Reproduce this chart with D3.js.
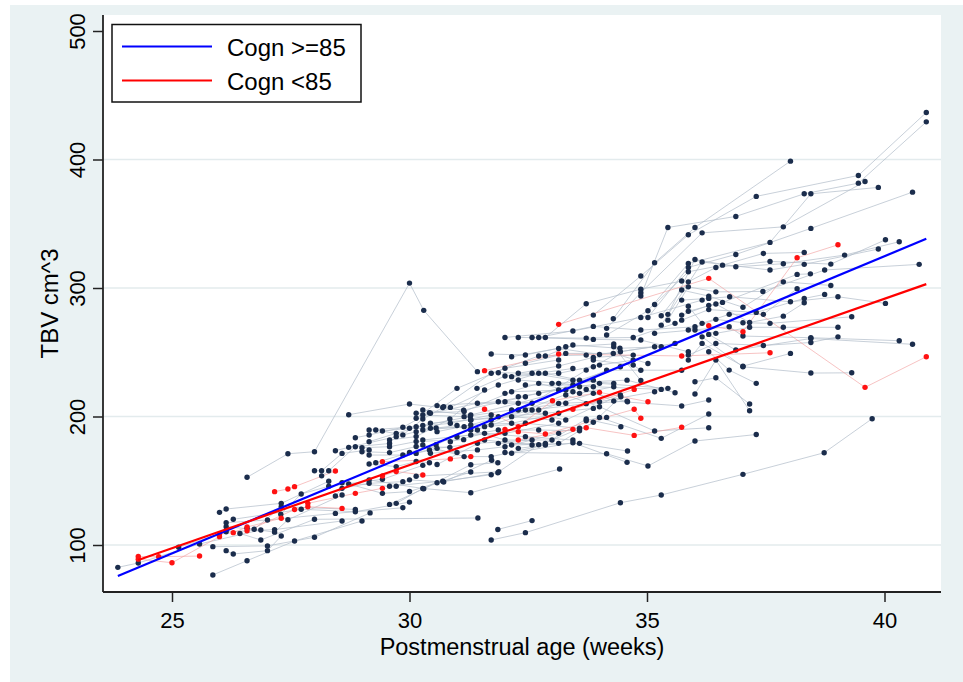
<!DOCTYPE html>
<html>
<head>
<meta charset="utf-8">
<title>TBV by postmenstrual age</title>
<script src="https://cdn.jsdelivr.net/npm/d3@7"></script>
<style>
  html, body { margin: 0; padding: 0; background: #fff; }
  svg { display: block; font-family: "Liberation Sans", Arial, sans-serif; }
</style>
</head>
<body>
<div id="container"></div>
<script>
// TBV (cm^3) by postmenstrual age, spaghetti plot + linear fits per cognition group

//### DATA ###
// each subject = list of [ week, tbv ] scans
const cognHighEarly = [
  [ [ 23.86, 82.6 ], [ 24.29, 86.0 ], [ 25.58, 100.8 ], [ 26.87, 111.7 ] ],
  [ [ 25.14, 98.2 ], [ 26.14, 110.3 ], [ 27.16, 112.0 ], [ 28.58, 118.7 ] ],
  [ [ 25.86, 76.7 ], [ 26.58, 87.8 ], [ 27.58, 103.1 ], [ 29.0, 118.7 ] ],
  [ [ 25.86, 98.7 ], [ 27.01, 99.3 ], [ 28.0, 106.0 ], [ 29.17, 125.0 ] ],
  [ [ 26.0, 125.4 ], [ 26.14, 128.0 ], [ 27.3, 132.4 ], [ 28.3, 149.6 ] ],
  [ [ 26.14, 117.3 ], [ 27.01, 119.5 ], [ 28.44, 124.6 ], [ 29.86, 129.0 ] ],
  [ [ 26.14, 114.2 ], [ 26.73, 112.2 ], [ 27.3, 129.8 ], [ 28.86, 127.7 ] ],
  [ [ 26.14, 95.6 ], [ 26.29, 93.0 ], [ 27.01, 95.6 ], [ 27.3, 107.0 ] ],
  [ [ 26.29, 120.0 ], [ 27.72, 127.8 ], [ 28.86, 125.9 ], [ 30.0, 133.4 ] ],
  [ [ 26.43, 109.0 ], [ 26.87, 103.9 ], [ 28.0, 120.0 ], [ 31.44, 121.0 ] ],
  [ [ 26.58, 152.7 ], [ 27.44, 171.0 ], [ 28.0, 172.6 ], [ 30.0, 303.8 ], [ 30.3, 282.6 ], [ 31.43, 234.9 ] ],
  [ [ 26.58, 113.0 ], [ 27.16, 110.0 ], [ 27.44, 119.6 ], [ 28.58, 138.9 ] ],
  [ [ 27.29, 124.0 ], [ 27.72, 139.7 ], [ 28.3, 145.7 ], [ 29.43, 151.1 ], [ 30.28, 162.0 ] ],
  [ [ 28.0, 157.8 ], [ 28.15, 157.8 ], [ 28.58, 171.3 ], [ 29.15, 174.0 ] ],
  [ [ 28.15, 153.8 ], [ 28.3, 157.8 ], [ 28.86, 176.5 ], [ 29.58, 179.0 ] ],
  [ [ 28.44, 173.4 ], [ 28.72, 176.0 ], [ 29.72, 184.3 ], [ 30.14, 188.2 ] ],
  [ [ 28.44, 138.1 ], [ 28.58, 144.1 ], [ 29.15, 148.0 ], [ 29.86, 149.3 ] ],
  [ [ 28.58, 148.5 ], [ 29.58, 145.7 ], [ 30.7, 149.7 ], [ 31.72, 154.7 ] ],
  [ [ 28.72, 201.4 ], [ 30.0, 209.7 ], [ 31.14, 205.0 ], [ 32.44, 215.4 ] ],
  [ [ 28.72, 147.5 ], [ 29.43, 140.2 ], [ 30.0, 141.6 ], [ 31.29, 156.8 ] ],
  [ [ 28.86, 183.5 ], [ 29.15, 185.6 ], [ 29.86, 191.6 ], [ 30.42, 203.0 ] ],
  [ [ 29.0, 175.7 ], [ 29.58, 176.5 ], [ 30.14, 180.5 ], [ 31.14, 182.0 ] ],
  [ [ 29.0, 172.6 ], [ 29.58, 171.9 ], [ 30.14, 176.6 ], [ 30.85, 176.0 ] ],
  [ [ 29.15, 180.4 ], [ 29.72, 186.9 ], [ 30.28, 193.0 ], [ 31.28, 200.0 ] ],
  [ [ 29.15, 170.0 ], [ 29.86, 170.0 ], [ 30.42, 174.0 ], [ 31.0, 172.0 ] ],
  [ [ 29.15, 163.0 ], [ 29.72, 161.0 ], [ 30.14, 165.0 ], [ 30.42, 164.0 ] ],
  [ [ 29.15, 189.5 ], [ 30.14, 192.1 ], [ 30.86, 194.7 ], [ 31.72, 201.2 ] ],
  [ [ 29.15, 150.6 ], [ 30.3, 143.8 ], [ 31.29, 162.5 ], [ 31.86, 164.0 ] ],
  [ [ 29.29, 189.5 ], [ 29.86, 185.7 ], [ 30.28, 198.0 ], [ 30.7, 207.0 ] ],
  [ [ 29.29, 164.0 ], [ 30.0, 172.0 ], [ 30.56, 178.0 ], [ 31.28, 190.0 ] ]
];

const cognHighMid = [
  [ [ 29.43, 188.7 ], [ 30.0, 190.8 ], [ 30.56, 191.0 ], [ 31.0, 193.0 ] ],
  [ [ 29.58, 181.7 ], [ 30.14, 184.4 ], [ 30.85, 198.0 ], [ 31.58, 220.6 ] ],
  [ [ 29.58, 131.6 ], [ 30.58, 148.5 ], [ 31.86, 156.2 ] ],
  [ [ 29.72, 132.4 ], [ 30.28, 144.0 ], [ 31.29, 140.7 ], [ 33.16, 159.1 ] ],
  [ [ 29.72, 145.7 ], [ 30.0, 150.7 ], [ 30.72, 149.0 ], [ 31.73, 166.0 ] ],
  [ [ 30.14, 202.5 ], [ 31.15, 203.8 ], [ 32.15, 219.3 ], [ 33.29, 220.6 ] ],
  [ [ 30.14, 198.6 ], [ 31.0, 221.9 ], [ 32.01, 237.5 ], [ 33.14, 244.0 ] ],
  [ [ 30.14, 171.3 ], [ 30.58, 175.2 ], [ 31.43, 179.1 ], [ 32.58, 181.7 ] ],
  [ [ 30.14, 153.5 ], [ 31.88, 157.0 ], [ 32.72, 178.0 ] ],
  [ [ 30.28, 205.1 ], [ 31.29, 201.2 ], [ 32.29, 210.3 ], [ 33.58, 223.2 ] ],
  [ [ 30.28, 201.2 ], [ 31.15, 199.9 ], [ 32.15, 205.1 ], [ 33.29, 210.3 ] ],
  [ [ 30.28, 189.5 ], [ 31.15, 192.1 ], [ 32.44, 205.1 ], [ 33.44, 219.3 ] ],
  [ [ 30.28, 181.7 ], [ 31.29, 185.6 ], [ 32.01, 186.9 ], [ 33.14, 194.7 ] ],
  [ [ 30.28, 177.8 ], [ 31.15, 168.8 ], [ 31.72, 168.8 ], [ 32.86, 177.8 ] ],
  [ [ 30.44, 202.5 ], [ 31.43, 210.3 ], [ 32.58, 210.3 ], [ 33.72, 236.1 ] ],
  [ [ 30.44, 194.7 ], [ 31.29, 197.3 ], [ 32.15, 199.9 ], [ 33.0, 197.3 ] ],
  [ [ 30.44, 190.8 ], [ 31.58, 192.1 ], [ 32.44, 194.7 ], [ 33.58, 190.8 ] ],
  [ [ 30.44, 171.4 ], [ 31.43, 174.0 ], [ 32.01, 176.5 ], [ 33.14, 186.9 ] ],
  [ [ 30.58, 208.5 ], [ 31.87, 211.5 ], [ 32.72, 218.0 ], [ 33.87, 228.3 ] ],
  [ [ 30.58, 188.2 ], [ 31.29, 193.4 ], [ 32.15, 194.7 ], [ 33.14, 202.5 ] ],
  [ [ 30.58, 162.6 ], [ 31.58, 181.7 ], [ 32.58, 177.8 ] ],
  [ [ 30.72, 207.7 ], [ 31.72, 233.6 ], [ 32.72, 247.1 ], [ 33.72, 247.8 ] ],
  [ [ 30.86, 207.1 ], [ 31.87, 224.5 ], [ 32.72, 233.6 ], [ 33.44, 237.4 ] ],
  [ [ 30.86, 180.4 ], [ 31.58, 186.9 ], [ 32.44, 184.3 ], [ 33.44, 181.7 ] ],
  [ [ 31.0, 184.0 ], [ 31.87, 189.5 ], [ 32.72, 189.5 ], [ 33.58, 188.9 ] ],
  [ [ 31.29, 189.5 ], [ 32.01, 181.7 ], [ 33.0, 181.7 ], [ 34.15, 199.3 ] ],
  [ [ 31.29, 197.3 ], [ 31.87, 199.9 ], [ 32.86, 202.5 ], [ 33.87, 206.3 ] ],
  [ [ 31.43, 189.5 ], [ 32.29, 205.1 ], [ 33.29, 197.3 ], [ 34.44, 216.7 ] ],
  [ [ 31.42, 221.9 ], [ 32.01, 231.5 ], [ 32.86, 233.6 ], [ 33.58, 228.3 ], [ 34.44, 238.7 ] ],
  [ [ 31.72, 248.6 ], [ 32.44, 247.9 ], [ 33.29, 254.3 ], [ 34.3, 256.4 ] ],
  [ [ 31.72, 197.3 ], [ 32.58, 205.1 ], [ 33.72, 210.0 ], [ 34.58, 212.0 ] ],
  [ [ 31.72, 193.4 ], [ 32.72, 205.1 ], [ 33.87, 218.0 ], [ 34.59, 211.5 ] ],
  [ [ 31.87, 234.1 ], [ 32.58, 233.6 ], [ 33.44, 228.3 ], [ 34.3, 225.8 ] ],
  [ [ 31.87, 179.1 ], [ 32.86, 179.0 ], [ 33.72, 198.0 ], [ 34.45, 192.0 ] ],
  [ [ 31.72, 103.9 ], [ 32.44, 109.6 ], [ 34.44, 132.9 ], [ 35.3, 138.9 ], [ 37.02, 155.0 ], [ 38.73, 171.8 ], [ 39.74, 198.3 ] ],
  [ [ 31.86, 112.1 ], [ 32.58, 119.0 ] ],
  [ [ 32.01, 261.5 ], [ 33.44, 266.5 ], [ 34.87, 277.1 ], [ 36.16, 290.6 ] ],
  [ [ 32.01, 218.0 ], [ 32.72, 225.8 ], [ 33.58, 218.0 ], [ 34.3, 223.2 ] ],
  [ [ 32.01, 211.5 ], [ 33.14, 210.2 ], [ 34.0, 211.5 ], [ 35.16, 219.3 ] ],
  [ [ 32.01, 172.0 ], [ 34.15, 171.0 ], [ 35.02, 161.5 ], [ 36.01, 180.9 ], [ 37.3, 186.0 ] ],
  [ [ 32.15, 246.5 ], [ 33.14, 253.0 ], [ 34.0, 248.3 ], [ 35.16, 254.3 ] ],
  [ [ 32.15, 231.0 ], [ 33.14, 233.6 ], [ 34.0, 240.0 ], [ 34.71, 243.9 ] ],
  [ [ 32.15, 177.8 ], [ 33.58, 179.1 ], [ 34.59, 173.1 ] ],
  [ [ 32.15, 171.4 ], [ 33.44, 179.6 ], [ 34.58, 164.3 ] ],
  [ [ 32.29, 261.5 ], [ 33.72, 261.0 ], [ 34.71, 261.5 ], [ 35.59, 272.5 ] ],
  [ [ 32.29, 233.6 ], [ 33.14, 239.3 ], [ 33.87, 246.0 ], [ 34.71, 247.8 ] ],
  [ [ 32.29, 228.4 ], [ 33.14, 225.8 ], [ 33.87, 223.2 ], [ 35.3, 221.1 ] ],
  [ [ 32.29, 215.4 ], [ 33.14, 220.6 ], [ 34.0, 225.8 ], [ 35.44, 221.9 ] ],
  [ [ 32.29, 175.2 ], [ 33.14, 179.1 ], [ 33.87, 195.5 ], [ 34.45, 215.4 ] ],
  [ [ 32.44, 241.4 ], [ 33.29, 249.1 ], [ 34.29, 249.1 ], [ 35.02, 241.3 ] ],
  [ [ 32.44, 224.5 ], [ 33.44, 224.5 ], [ 34.15, 236.1 ], [ 35.73, 236.0 ] ],
  [ [ 32.58, 261.5 ], [ 33.87, 260.0 ], [ 34.87, 259.5 ], [ 35.87, 250.4 ] ],
  [ [ 32.72, 261.5 ], [ 33.87, 270.1 ], [ 34.87, 267.3 ], [ 36.01, 269.8 ] ],
  [ [ 32.86, 261.5 ], [ 33.72, 287.8 ], [ 34.87, 299.1 ], [ 35.73, 305.4 ] ],
  [ [ 32.86, 247.1 ], [ 33.44, 255.6 ], [ 34.43, 253.1 ], [ 35.3, 254.3 ] ],
  [ [ 33.0, 225.8 ], [ 34.58, 228.3 ], [ 35.59, 218.5 ] ],
  [ [ 33.29, 216.7 ], [ 34.0, 207.6 ], [ 35.16, 188.7 ], [ 36.3, 191.2 ] ],
  [ [ 33.72, 221.1 ], [ 34.3, 212.0 ], [ 35.73, 208.2 ], [ 36.3, 212.8 ] ],
  [ [ 33.72, 196.7 ], [ 34.0, 199.3 ], [ 35.3, 183.0 ], [ 36.3, 201.9 ] ]
];

const cognHighLate = [
  [ [ 33.87, 238.7 ], [ 34.44, 250.4 ], [ 35.59, 256.9 ] ],
  [ [ 33.87, 243.9 ], [ 34.71, 240.0 ], [ 34.87, 236.0 ] ],
  [ [ 34.3, 254.3 ], [ 34.87, 228.0 ] ],
  [ [ 33.87, 278.9 ], [ 34.87, 309.3 ], [ 35.87, 341.4 ], [ 37.3, 371.3 ], [ 39.45, 387.6 ], [ 40.88, 436.6 ] ],
  [ [ 34.29, 276.1 ], [ 35.16, 319.6 ], [ 36.01, 347.1 ], [ 38.02, 398.7 ] ],
  [ [ 34.87, 293.8 ], [ 35.44, 347.1 ], [ 36.87, 355.7 ], [ 38.31, 373.3 ], [ 39.45, 381.6 ], [ 40.88, 429.3 ] ],
  [ [ 34.15, 268.6 ], [ 34.87, 296.4 ], [ 36.16, 342.9 ], [ 37.87, 347.6 ], [ 39.59, 382.9 ] ],
  [ [ 34.15, 263.4 ], [ 35.02, 282.3 ], [ 35.87, 319.1 ], [ 37.59, 335.5 ], [ 38.45, 373.3 ], [ 39.87, 378.3 ] ],
  [ [ 35.02, 277.1 ], [ 35.87, 316.0 ], [ 36.87, 326.1 ], [ 38.45, 346.4 ], [ 40.59, 374.6 ] ],
  [ [ 35.16, 287.2 ], [ 35.87, 312.6 ], [ 36.59, 317.8 ], [ 37.45, 326.9 ], [ 38.31, 327.7 ] ],
  [ [ 35.3, 278.4 ], [ 35.87, 304.8 ], [ 36.45, 316.0 ], [ 37.59, 320.7 ], [ 38.87, 318.6 ], [ 40.02, 337.5 ] ],
  [ [ 35.44, 279.5 ], [ 36.01, 322.2 ], [ 36.87, 316.5 ], [ 37.87, 318.9 ], [ 39.16, 325.6 ], [ 40.31, 336.0 ] ],
  [ [ 35.3, 271.1 ], [ 36.16, 320.2 ], [ 37.59, 314.0 ], [ 38.31, 318.4 ], [ 39.87, 330.3 ] ],
  [ [ 35.44, 275.0 ], [ 35.87, 300.9 ], [ 36.45, 297.0 ], [ 37.44, 297.3 ], [ 38.74, 314.0 ], [ 40.73, 318.4 ] ],
  [ [ 35.73, 298.4 ], [ 36.3, 293.7 ], [ 37.02, 285.0 ], [ 37.87, 304.8 ], [ 38.87, 302.0 ] ],
  [ [ 35.73, 290.6 ], [ 36.3, 291.9 ], [ 36.74, 293.2 ], [ 38.02, 289.3 ], [ 39.02, 293.2 ], [ 40.02, 288.0 ] ],
  [ [ 35.73, 278.9 ], [ 36.3, 286.5 ], [ 36.59, 288.8 ], [ 38.16, 310.6 ], [ 38.44, 311.0 ] ],
  [ [ 35.73, 275.0 ], [ 36.3, 283.2 ], [ 37.3, 281.0 ], [ 38.31, 291.9 ], [ 38.74, 295.0 ] ],
  [ [ 35.87, 285.8 ], [ 36.16, 272.5 ], [ 36.73, 279.5 ], [ 37.45, 279.5 ], [ 38.16, 299.5 ] ],
  [ [ 35.87, 281.9 ], [ 36.45, 287.5 ], [ 37.16, 273.2 ], [ 37.87, 278.1 ], [ 38.31, 288.5 ] ],
  [ [ 35.87, 267.3 ], [ 36.45, 275.6 ], [ 37.02, 273.0 ], [ 37.59, 272.5 ], [ 39.31, 277.6 ] ],
  [ [ 36.01, 267.3 ], [ 36.45, 264.7 ], [ 37.16, 269.4 ], [ 37.87, 269.4 ], [ 39.02, 269.4 ] ],
  [ [ 35.16, 264.7 ], [ 36.73, 269.8 ], [ 37.02, 262.6 ], [ 38.45, 261.3 ], [ 40.31, 259.0 ] ],
  [ [ 36.3, 263.9 ], [ 36.87, 251.7 ], [ 38.45, 260.7 ], [ 40.59, 256.2 ] ],
  [ [ 35.87, 247.8 ], [ 36.45, 256.9 ], [ 37.45, 255.3 ], [ 38.45, 257.6 ], [ 39.02, 262.0 ] ],
  [ [ 35.87, 243.9 ], [ 36.16, 256.9 ], [ 37.02, 239.2 ], [ 38.02, 249.1 ] ],
  [ [ 36.16, 262.0 ], [ 37.02, 238.7 ], [ 38.45, 233.8 ], [ 39.31, 234.0 ] ],
  [ [ 36.3, 250.4 ], [ 36.73, 236.1 ], [ 37.3, 225.8 ] ],
  [ [ 36.01, 227.0 ], [ 36.45, 230.1 ], [ 37.16, 209.7 ] ],
  [ [ 36.01, 217.5 ], [ 36.45, 243.9 ], [ 37.16, 204.5 ] ]
];

const cognLow = [
  [ [ 24.29, 91.0 ], [ 24.72, 90.9 ], [ 25.58, 91.4 ] ],
  [ [ 24.29, 89.0 ], [ 25.0, 86.2 ], [ 26.0, 106.5 ] ],
  [ [ 26.0, 108.6 ], [ 26.29, 109.6 ], [ 26.58, 114.0 ], [ 27.3, 120.8 ] ],
  [ [ 26.58, 111.0 ], [ 27.58, 127.6 ], [ 27.86, 129.8 ], [ 28.58, 128.5 ] ],
  [ [ 27.16, 141.5 ], [ 27.44, 143.6 ], [ 27.58, 145.4 ], [ 28.44, 157.6 ] ],
  [ [ 27.86, 132.4 ], [ 28.86, 140.2 ], [ 29.43, 144.1 ] ],
  [ [ 29.43, 164.8 ], [ 30.86, 167.0 ], [ 31.29, 168.8 ] ],
  [ [ 29.43, 153.7 ], [ 29.72, 157.2 ], [ 30.28, 154.5 ] ],
  [ [ 31.58, 235.7 ], [ 33.14, 248.6 ], [ 35.73, 247.1 ], [ 37.59, 249.6 ] ],
  [ [ 31.58, 205.6 ], [ 32.29, 192.1 ], [ 33.01, 212.3 ], [ 34.0, 218.8 ], [ 35.02, 211.5 ] ],
  [ [ 32.01, 190.0 ], [ 32.29, 188.2 ], [ 32.86, 186.4 ], [ 34.73, 205.6 ], [ 34.87, 198.6 ] ],
  [ [ 32.29, 181.7 ], [ 33.44, 190.0 ], [ 33.72, 191.3 ], [ 34.73, 185.3 ], [ 35.73, 191.6 ] ],
  [ [ 33.44, 205.6 ], [ 34.73, 221.1 ] ],
  [ [ 33.14, 271.7 ], [ 36.3, 307.5 ], [ 39.59, 222.7 ], [ 40.88, 246.5 ] ],
  [ [ 36.3, 270.6 ], [ 37.02, 266.0 ], [ 38.16, 323.5 ], [ 39.02, 333.6 ] ]
];

// linear fits: end points of each fitted line
const fitHighWeeks = [ 23.86, 40.88 ];
const fitHighTbv = [ 75.9, 338.3 ];
const fitLowWeeks = [ 24.29, 40.88 ];
const fitLowTbv = [ 88.3, 303.0 ];

const xTicks = [ 25, 30, 35, 40 ];
const yTicks = [ 100, 200, 300, 400, 500 ];
const gridValues = [ 100, 200, 300, 400 ];
const legendLabels = [ 'Cogn >=85', 'Cogn <85' ];


//### DRAW ###
const width = 963;
const height = 682;
const plot = { left: 103, right: 941, top: 15, bottom: 592 };

const colors = {
  graphBg: '#eaf2f3',
  grid: '#e3ebed',
  spaghetti: '#b3bdca',
  spaghettiLow: '#f2a0a0',
  dotHigh: '#1b2d4c',
  dotLow: '#ff1212',
  fitHigh: '#0000ff',
  fitLow: '#ff0000'
};

//_____ SCALES _____
const xScale = d3.scaleLinear()
  .domain( [ 25, 40 ] )
  .range( [ 172, 884.5 ] );

const yScale = d3.scaleLinear()
  .domain( [ 100, 500 ] )
  .range( [ 545, 31 ] );

//_____ SVG _____
const svg = d3.select( '#container' )
  .append( 'svg' )
  .attr( 'width', width )
  .attr( 'height', height );

svg.append( 'rect' )
  .attr( 'width', width ).attr( 'height', height )
  .attr( 'fill', '#fff' );

//>>> graph region (grey) and plot region (white)
svg.append( 'rect' )
  .attr( 'x', 10 ).attr( 'y', 5 )
  .attr( 'width', width - 10 ).attr( 'height', height - 5 )
  .attr( 'fill', colors.graphBg );

svg.append( 'rect' )
  .attr( 'x', plot.left ).attr( 'y', plot.top )
  .attr( 'width', plot.right - plot.left ).attr( 'height', plot.bottom - plot.top )
  .attr( 'fill', '#fff' );

//_____ GRID _____
svg.append( 'g' )
  .selectAll( 'line' )
  .data( gridValues )
  .join( 'line' )
  .attr( 'x1', plot.left ).attr( 'x2', plot.right )
  .attr( 'y1', d => yScale( d ) ).attr( 'y2', d => yScale( d ) )
  .attr( 'stroke', colors.grid )
  .attr( 'stroke-width', 1.6 );

//_____ SUBJECT LINES _____
const cognHigh = [ ...cognHighEarly, ...cognHighMid, ...cognHighLate ];

const line = d3.line()
  .x( d => xScale( d[ 0 ] ) )
  .y( d => yScale( d[ 1 ] ) );

svg.append( 'g' )
  .selectAll( 'path' )
  .data( cognHigh.filter( s => s.length > 1 ) )
  .join( 'path' )
  .attr( 'd', line )
  .attr( 'fill', 'none' )
  .attr( 'stroke', colors.spaghetti )
  .attr( 'stroke-opacity', 0.8 )
  .attr( 'stroke-width', 0.9 );

svg.append( 'g' )
  .selectAll( 'path' )
  .data( cognLow.filter( s => s.length > 1 ) )
  .join( 'path' )
  .attr( 'd', line )
  .attr( 'fill', 'none' )
  .attr( 'stroke', colors.spaghettiLow )
  .attr( 'stroke-opacity', 0.7 )
  .attr( 'stroke-width', 0.9 );

//_____ DOTS _____
svg.append( 'g' )
  .selectAll( 'circle' )
  .data( cognHigh.flat() )
  .join( 'circle' )
  .attr( 'cx', d => xScale( d[ 0 ] ) )
  .attr( 'cy', d => yScale( d[ 1 ] ) )
  .attr( 'r', 2.7 )
  .attr( 'fill', colors.dotHigh );

svg.append( 'g' )
  .selectAll( 'circle' )
  .data( cognLow.flat() )
  .join( 'circle' )
  .attr( 'cx', d => xScale( d[ 0 ] ) )
  .attr( 'cy', d => yScale( d[ 1 ] ) )
  .attr( 'r', 2.7 )
  .attr( 'fill', colors.dotLow );

//_____ FIT LINES _____
const fits = [
  { weeks: fitHighWeeks, tbv: fitHighTbv, color: colors.fitHigh },
  { weeks: fitLowWeeks, tbv: fitLowTbv, color: colors.fitLow }
];

svg.append( 'g' )
  .selectAll( 'line' )
  .data( fits )
  .join( 'line' )
  .attr( 'x1', d => xScale( d.weeks[ 0 ] ) )
  .attr( 'y1', d => yScale( d.tbv[ 0 ] ) )
  .attr( 'x2', d => xScale( d.weeks[ 1 ] ) )
  .attr( 'y2', d => yScale( d.tbv[ 1 ] ) )
  .attr( 'stroke', d => d.color )
  .attr( 'stroke-width', 2.2 );

//_____ AXES _____
const xAxis = d3.axisBottom( xScale )
  .tickValues( xTicks )
  .tickSize( 10 );

svg.append( 'g' )
  .attr( 'transform', `translate( 0, ${plot.bottom} )` )
  .call( xAxis )
  .call( g => g.select( '.domain' ).remove() )
  .call( g => g.attr( 'font-family', null ).attr( 'font-size', 22 ) )
  .call( g => g.selectAll( '.tick line' ).attr( 'stroke', '#222' ).attr( 'stroke-width', 1.5 ) )
  .call( g => g.selectAll( '.tick text' )
    .attr( 'fill', '#000' )
    .attr( 'y', 36 )
    .attr( 'dy', 0 ) );

const yAxis = d3.axisLeft( yScale )
  .tickValues( yTicks )
  .tickSize( 10 );

svg.append( 'g' )
  .attr( 'transform', `translate( ${plot.left}, 0 )` )
  .call( yAxis )
  .call( g => g.select( '.domain' ).remove() )
  .call( g => g.attr( 'font-family', null ).attr( 'font-size', 22 ) )
  .call( g => g.selectAll( '.tick line' ).attr( 'stroke', '#222' ).attr( 'stroke-width', 1.5 ) )
  .call( g => g.selectAll( '.tick text' )
    .attr( 'fill', '#000' )
    .attr( 'x', 0 )
    .attr( 'dy', 0 )
    .attr( 'text-anchor', 'middle' )
    .attr( 'transform', 'translate( -18, 0 ) rotate( -90 )' ) );

//>>> axis lines along the plot region edges
svg.append( 'line' )
  .attr( 'x1', plot.left ).attr( 'x2', plot.right )
  .attr( 'y1', plot.bottom ).attr( 'y2', plot.bottom )
  .attr( 'stroke', '#222' ).attr( 'stroke-width', 1.8 );

svg.append( 'line' )
  .attr( 'x1', plot.left ).attr( 'x2', plot.left )
  .attr( 'y1', plot.top ).attr( 'y2', plot.bottom )
  .attr( 'stroke', '#222' ).attr( 'stroke-width', 1.8 );

//_____ AXES TITLES _____
svg.append( 'text' )
  .attr( 'x', ( plot.left + plot.right ) / 2 )
  .attr( 'y', 655 )
  .attr( 'text-anchor', 'middle' )
  .attr( 'font-size', 23.5 )
  .text( 'Postmenstrual age (weeks)' );

svg.append( 'text' )
  .attr( 'transform', `translate( 58, ${( plot.top + plot.bottom ) / 2} ) rotate( -90 )` )
  .attr( 'text-anchor', 'middle' )
  .attr( 'font-size', 24 )
  .text( 'TBV cm^3' );

//_____ LEGEND _____
const legend = svg.append( 'g' );

legend.append( 'rect' )
  .attr( 'x', 112 ).attr( 'y', 24.5 )
  .attr( 'width', 249 ).attr( 'height', 77.5 )
  .attr( 'fill', '#fff' )
  .attr( 'stroke', '#111' )
  .attr( 'stroke-width', 1.5 );

legendLabels.forEach( ( label, i ) => {
  const y = 46.5 + i * 34;
  legend.append( 'line' )
    .attr( 'x1', 122 ).attr( 'x2', 212 )
    .attr( 'y1', y ).attr( 'y2', y )
    .attr( 'stroke', fits[ i ].color )
    .attr( 'stroke-width', 2.2 );
  legend.append( 'text' )
    .attr( 'x', 227 )
    .attr( 'y', y + 9.5 )
    .attr( 'font-size', 24 )
    .text( label );
} );
</script>
</body>
</html>
